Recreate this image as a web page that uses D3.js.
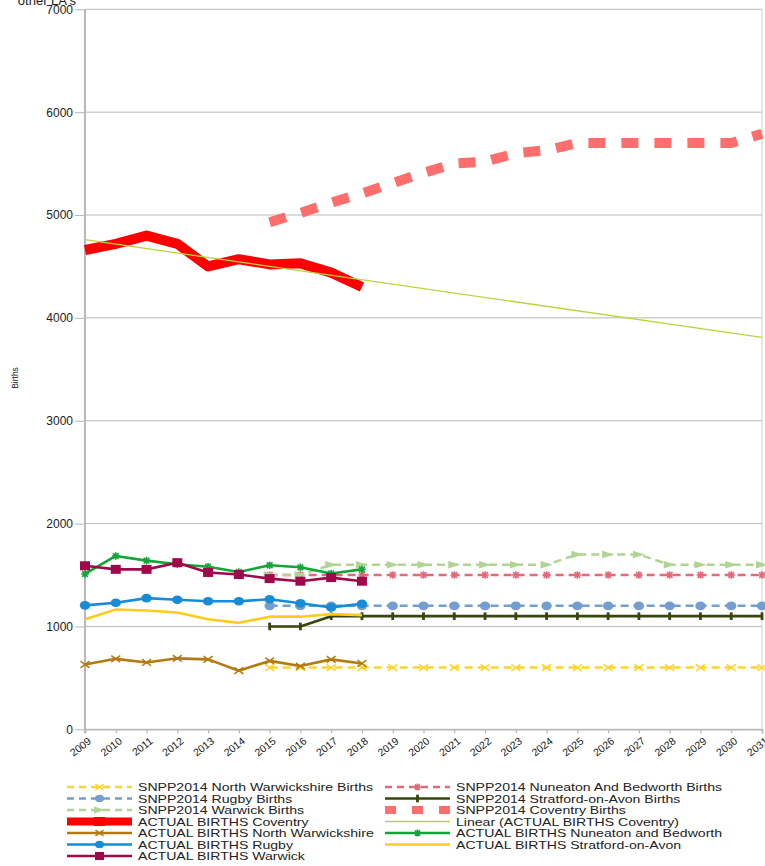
<!DOCTYPE html>
<html>
<head>
<meta charset="utf-8">
<script src="https://cdn.jsdelivr.net/npm/d3@7"></script>
<style>
  html, body { margin: 0; padding: 0; background: #ffffff; overflow: hidden; }
  text { font-family: "Liberation Sans", Arial, sans-serif; }
</style>
</head>
<body>
<script>
// ---------------- DATA ----------------
const years = ["2009","2010","2011","2012","2013","2014","2015","2016","2017","2018","2019","2020",
               "2021","2022","2023","2024","2025","2026","2027","2028","2029","2030","2031"];
const actualYears = ["2009","2010","2011","2012","2013","2014","2015","2016","2017","2018"];
const snppYears = ["2015","2016","2017","2018","2019","2020","2021","2022","2023","2024","2025",
                   "2026","2027","2028","2029","2030","2031"];
const yTickValues = [0, 1000, 2000, 3000, 4000, 5000, 6000, 7000];

const snppNorthWarwickshire = [600,600,600,600,600,600,600,600,600,600,600,600,600,600,600,600,600];
const snppNuneaton          = [1500,1500,1500,1500,1500,1500,1500,1500,1500,1500,1500,1500,1500,1500,1500,1500,1500];
const snppRugby             = [1200,1200,1200,1200,1200,1200,1200,1200,1200,1200,1200,1200,1200,1200,1200,1200,1200];
const snppStratford         = [1000,1000,1100,1100,1100,1100,1100,1100,1100,1100,1100,1100,1100,1100,1100,1100,1100];
const snppWarwick           = [1500,1500,1600,1600,1600,1600,1600,1600,1600,1600,1700,1700,1700,1600,1600,1600,1600];
const snppCoventry          = [4930,5020,5120,5210,5310,5410,5500,5520,5600,5630,5700,5700,5700,5700,5700,5700,5790];

const actualCoventry          = [4660,4720,4800,4720,4500,4570,4520,4530,4440,4300];
const actualNorthWarwickshire = [630,685,650,690,680,570,665,615,680,640];
const actualNuneaton          = [1510,1685,1640,1605,1580,1530,1595,1575,1515,1555];
const actualRugby             = [1205,1230,1275,1260,1245,1245,1265,1225,1185,1220];
const actualStratford         = [1070,1165,1155,1135,1070,1035,1095,1095,1120,1110];
const actualWarwick           = [1590,1555,1555,1620,1525,1505,1465,1440,1475,1440];

const trendYears  = ["2009","2031"];
const trendValues = [4760, 3810];

const seriesNames = [
  "SNPP2014 North Warwickshire Births",
  "SNPP2014 Nuneaton And Bedworth Births",
  "SNPP2014 Rugby Births",
  "SNPP2014 Stratford-on-Avon Births",
  "SNPP2014 Warwick Births",
  "SNPP2014 Coventry Births",
  "ACTUAL BIRTHS Coventry",
  "Linear (ACTUAL BIRTHS Coventry)",
  "ACTUAL BIRTHS North Warwickshire",
  "ACTUAL BIRTHS Nuneaton and Bedworth",
  "ACTUAL BIRTHS Rugby",
  "ACTUAL BIRTHS Stratford-on-Avon",
  "ACTUAL BIRTHS Warwick"
];

// ---------------- STYLE ----------------
const series = [
  { name: seriesNames[0],  x: snppYears,   v: snppNorthWarwickshire,   color: "#ffd428", w: 2.5, dash: "8,5", marker: "x" },
  { name: seriesNames[1],  x: snppYears,   v: snppNuneaton,            color: "#e3697a", w: 2.5, dash: "8,5", marker: "star" },
  { name: seriesNames[2],  x: snppYears,   v: snppRugby,               color: "#729fcf", w: 2.5, dash: "8,5", marker: "circle" },
  { name: seriesNames[3],  x: snppYears,   v: snppStratford,           color: "#37460c", w: 2.6, dash: null,  marker: "bar" },
  { name: seriesNames[4],  x: snppYears,   v: snppWarwick,             color: "#b0d494", w: 2.5, dash: "8,5", marker: "tri" },
  { name: seriesNames[5],  x: snppYears,   v: snppCoventry,            color: "#ff6d6d", w: 10,  dash: "17,16", marker: null, legendDash: "11,16", legendW: 8 },
  { name: seriesNames[6],  x: actualYears, v: actualCoventry,          color: "#ff0000", w: 10,  dash: null,  marker: null, legendMarker: "bigsquare" },
  { name: seriesNames[7],  x: trendYears,  v: trendValues,             color: "#b8d63a", w: 1.3, dash: null,  marker: null },
  { name: seriesNames[8],  x: actualYears, v: actualNorthWarwickshire, color: "#b47a10", w: 2.6, dash: null,  marker: "x" },
  { name: seriesNames[9],  x: actualYears, v: actualNuneaton,          color: "#13a538", w: 2.6, dash: null,  marker: "star" },
  { name: seriesNames[10], x: actualYears, v: actualRugby,             color: "#168bd6", w: 2.6, dash: null,  marker: "circle" },
  { name: seriesNames[11], x: actualYears, v: actualStratford,         color: "#ffcc1e", w: 2.6, dash: null,  marker: null },
  { name: seriesNames[12], x: actualYears, v: actualWarwick,           color: "#a0084c", w: 2.6, dash: null,  marker: "square" }
];

const W = 765, H = 866;
const svg = d3.select("body").append("svg").attr("width", W).attr("height", H);

const x = d3.scalePoint().domain(years).range([85, 762]);
const y = d3.scaleLinear().domain([0, 7000]).range([729.3, 9.3]);

const gridColor = "#b8b8b8";

// gridlines
svg.append("g").selectAll("line").data(yTickValues).join("line")
  .attr("x1", 85).attr("x2", 762)
  .attr("y1", d => y(d)).attr("y2", d => y(d))
  .attr("stroke", gridColor).attr("stroke-width", 1);

// right border
svg.append("line").attr("x1", 762).attr("x2", 762).attr("y1", y(7000)).attr("y2", y(0))
  .attr("stroke", "#d0d0d0").attr("stroke-width", 1);

// y axis
const yAxis = svg.append("g").attr("transform", "translate(85,0)")
  .call(d3.axisLeft(y).tickValues(yTickValues).tickSize(10).tickPadding(2).tickFormat(d3.format("d")));
yAxis.select(".domain").remove();
yAxis.selectAll(".tick line").attr("stroke", gridColor);
yAxis.selectAll(".tick text").attr("font-size", 12).attr("fill", "#222")
  .attr("font-family", "Liberation Sans, Arial, sans-serif");

// x axis
const xAxis = svg.append("g").attr("transform", `translate(0,${y(0)})`)
  .call(d3.axisBottom(x).tickSize(4).tickPadding(0));
xAxis.select(".domain").attr("stroke", gridColor).attr("stroke-width", 1.5);
xAxis.selectAll(".tick line").attr("stroke", gridColor).attr("stroke-width", 1.2);
xAxis.selectAll(".tick text")
  .attr("font-size", 10.5).attr("fill", "#222")
  .attr("font-family", "Liberation Sans, Arial, sans-serif")
  .attr("text-anchor", "end")
  .attr("dy", 0)
  .attr("transform", "translate(4,10) rotate(-38)");

// axis line (vertical)
svg.append("line").attr("x1", 85).attr("x2", 85).attr("y1", y(7000)).attr("y2", y(0) + 4)
  .attr("stroke", gridColor).attr("stroke-width", 2);

// y label
svg.append("text").attr("transform", "translate(18,378) rotate(-90)")
  .attr("text-anchor", "middle").attr("font-size", 8.5).attr("fill", "#222").text("Births");

// partially visible title
svg.append("text").attr("x", 76).attr("y", 5).attr("text-anchor", "end")
  .attr("font-size", 13).attr("fill", "#222").text("other LA's");

// ---------------- MARKERS ----------------
function drawMarker(g, type, cx, cy, color, scale) {
  const s = scale || 1;
  if (type === "x") {
    const a = 4.5 * s, b = 3.3 * s;
    g.append("path").attr("d", `M${cx-a},${cy-b}L${cx+a},${cy+b}M${cx-a},${cy+b}L${cx+a},${cy-b}`)
      .attr("stroke", color).attr("stroke-width", 1.5).attr("fill", "none");
  } else if (type === "star") {
    const a = 3.8 * s;
    g.append("path").attr("d",
      `M${cx-a},${cy}L${cx+a},${cy}M${cx},${cy-a}L${cx},${cy+a}M${cx-a*0.75},${cy-a*0.75}L${cx+a*0.75},${cy+a*0.75}M${cx-a*0.75},${cy+a*0.75}L${cx+a*0.75},${cy-a*0.75}`)
      .attr("stroke", color).attr("stroke-width", 1.6).attr("fill", "none");
  } else if (type === "circle") {
    g.append("ellipse").attr("cx", cx).attr("cy", cy).attr("rx", 5.2 * s).attr("ry", 4.3 * s).attr("fill", color);
  } else if (type === "square") {
    g.append("rect").attr("x", cx - 5 * s).attr("y", cy - 4.5 * s).attr("width", 10 * s).attr("height", 9 * s).attr("fill", color);
  } else if (type === "bigsquare") {
    g.append("rect").attr("x", cx - 5.5).attr("y", cy - 4.5).attr("width", 11).attr("height", 9).attr("fill", color);
  } else if (type === "tri") {
    g.append("path").attr("d", `M${cx-6*s},${cy-3.8*s}L${cx+6*s},${cy}L${cx-6*s},${cy+3.8*s}Z`).attr("fill", color);
  } else if (type === "bar") {
    g.append("rect").attr("x", cx - 1.4).attr("y", cy - 3.8).attr("width", 2.8).attr("height", 7.6).attr("fill", color);
  }
}

// ---------------- SERIES ----------------
const line = d3.line().x(d => x(d.year)).y(d => y(d.value));
series.forEach(s => {
  const pts = s.x.map((yr, i) => ({ year: yr, value: s.v[i] }));
  const g = svg.append("g");
  g.append("path").datum(pts).attr("d", line)
    .attr("fill", "none").attr("stroke", s.color).attr("stroke-width", s.w)
    .attr("stroke-dasharray", s.dash)
    .attr("stroke-linejoin", "round").attr("stroke-linecap", "butt");
  if (s.marker) pts.forEach(p => drawMarker(g, s.marker, x(p.year), y(p.value), s.color));
});

// ---------------- LEGEND ----------------
const legendCols = [67, 385];
const legendRowY = [787, 798.5, 810, 821.5, 833, 844.5, 856];
const legendSymbolW = 65;
const legendTextGap = 6;
const legendStretch = 1.28;

const lg = svg.append("g");
series.forEach((s, i) => {
  const col = i % 2, row = Math.floor(i / 2);
  const lx = legendCols[col], ly = legendRowY[row];
  const g = lg.append("g");
  g.append("line").attr("x1", lx).attr("x2", lx + legendSymbolW).attr("y1", ly).attr("y2", ly)
    .attr("stroke", s.color).attr("stroke-width", s.legendW || Math.min(s.w, 8))
    .attr("stroke-dasharray", s.legendDash || (s.dash ? "7,5" : null));
  const m = s.legendMarker || s.marker;
  if (m) drawMarker(g, m, lx + legendSymbolW / 2, ly, s.color, 0.9);
  const t = g.append("text").attr("x", lx + legendSymbolW + legendTextGap).attr("y", ly + 4)
    .attr("font-size", 11).attr("fill", "#222").text(s.name);
  const len = t.node().getComputedTextLength();
  t.attr("textLength", len * legendStretch).attr("lengthAdjust", "spacingAndGlyphs");
});
</script>
</body>
</html>
